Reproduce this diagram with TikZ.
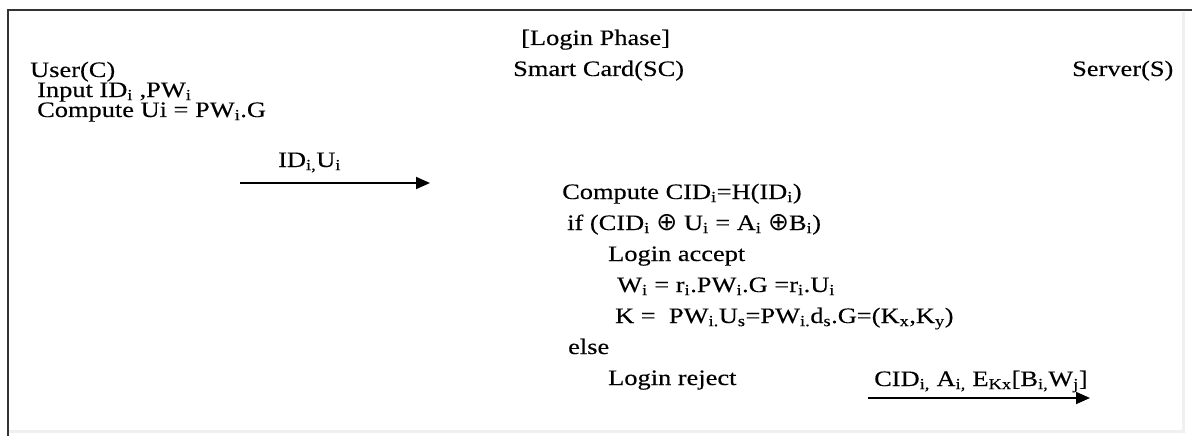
\documentclass[tikz,border=0pt]{standalone}
\usepackage{fontspec}
\setmainfont{Liberation Serif}[FakeStretch=1.2,FakeBold=0.3]
\newfontfamily\symf{DejaVu Sans}
\usetikzlibrary{arrows.meta}
\newcommand\sbs[1]{\textsubscript{#1}}
\newcommand\xo{\raisebox{-0.5pt}{\fontsize{25}{26}\symf ⊕}}
\begin{document}
\begin{tikzpicture}[x=1pt,y=-1pt,
  txt/.style={anchor=base west, inner sep=0pt, font=\fontsize{22}{26}\selectfont},
  frameline/.style={line width=2pt, draw=black!80},
  faint/.style={line width=3pt, draw=black!6},
  msg/.style={line width=1.8pt, -{Triangle[length=14pt,width=12pt]}}]
\useasboundingbox (0,0) rectangle (1192,436);

% outer frame (top and left edges)
\draw[faint] (9,431) -- (1183,431) -- (1183,12);
\draw[frameline] (7.5,436) -- (7.5,10.5) -- (1192,10.5);

% headings
\node[txt] (lp)   at (521,45)  {[Login Phase]};
\node[txt] (user) at (30,77)   {User(C)};
\node[txt] (sc)   at (513,76)  {Smart Card(SC)};
\node[txt] (srv)  at (1072,76) {Server(S)};

% user side
\node[txt] (in) at (37,97)  {Input ID\sbs{i} ,PW\sbs{i}};
\node[txt] (cu) at (37,117) {Compute Ui = PW\sbs{i}.G};

% message user -> smart card
\node[txt] (m1) at (278,167) {ID\sbs{i,}U\sbs{i}};
\coordinate (m1s) at (240,183);
\coordinate (m1e) at (430,183);
\draw[msg] (m1s) -- (m1e);

% smart card computations
\node[txt] (cc)   at (562,199) {Compute CID\sbs{i}=H(ID\sbs{i})};
\node[txt] (cif)  at (567,230) {if (CID\sbs{i} \xo\ U\sbs{i} = A\sbs{i} \xo B\sbs{i})};
\node[txt] (acc)  at (608,261) {Login accept};
\node[txt] (wi)   at (617,292) {W\sbs{i} = r\sbs{i}.PW\sbs{i}.G =r\sbs{i}.U\sbs{i}};
\node[txt] (kk)   at (615,323) {K =\ \ PW\sbs{i.}U\sbs{s}=PW\sbs{i.}d\sbs{s}.G=(K\sbs{x},K\sbs{y})};
\node[txt] (els)  at (568,354) {else};
\node[txt] (rej)  at (608,385) {Login reject};

% message smart card -> server
\node[txt] (m2) at (874,386) {CID\sbs{i,} A\sbs{i,} E\sbs{Kx}[B\sbs{i,}W\sbs{j}]};
\coordinate (m2s) at (868,398);
\coordinate (m2e) at (1090,398);
\draw[msg] (m2s) -- (m2e);
\end{tikzpicture}
\end{document}
